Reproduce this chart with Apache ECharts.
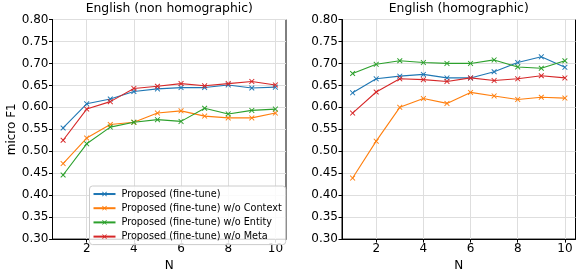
<!DOCTYPE html>
<html>
<head>
<meta charset="utf-8">
<script src="https://cdn.jsdelivr.net/npm/echarts@6/dist/echarts.min.js"></script>
<style>
html,body{margin:0;padding:0;background:#fff;}
#c{width:576px;height:277px;}
</style>
</head>
<body>
<div id="c"></div>
<script>
const N = [1, 2, 3, 4, 5, 6, 7, 8, 9, 10];
const xTicks = [2, 4, 6, 8, 10];
const seriesNames = [
  'Proposed (fine-tune)',
  'Proposed (fine-tune) w/o Context',
  'Proposed (fine-tune) w/o Entity',
  'Proposed (fine-tune) w/o Meta'
];
const panelTitles = ['English (non homographic)', 'English (homographic)'];

const nonHomoProposed  = [0.553, 0.608, 0.619, 0.636, 0.642, 0.645, 0.645, 0.651, 0.644, 0.646];
const nonHomoWoContext = [0.472, 0.530, 0.561, 0.566, 0.587, 0.592, 0.580, 0.576, 0.576, 0.587];
const nonHomoWoEntity  = [0.446, 0.517, 0.555, 0.566, 0.572, 0.568, 0.598, 0.585, 0.593, 0.596];
const nonHomoWoMeta    = [0.525, 0.596, 0.613, 0.643, 0.648, 0.654, 0.649, 0.654, 0.659, 0.651];

const homoProposed  = [0.633, 0.665, 0.671, 0.675, 0.667, 0.667, 0.681, 0.702, 0.715, 0.691];
const homoWoContext = [0.439, 0.523, 0.600, 0.620, 0.609, 0.634, 0.626, 0.618, 0.623, 0.621];
const homoWoEntity  = [0.677, 0.698, 0.706, 0.702, 0.700, 0.700, 0.708, 0.692, 0.689, 0.706];
const homoWoMeta    = [0.587, 0.635, 0.665, 0.663, 0.659, 0.667, 0.661, 0.665, 0.672, 0.667];

const colors = ['#1f77b4', '#ff7f0e', '#2ca02c', '#d62728'];
const panels = [
  [nonHomoProposed, nonHomoWoContext, nonHomoWoEntity, nonHomoWoMeta],
  [homoProposed, homoWoContext, homoWoEntity, homoWoMeta]
];

const FONT = 'DejaVu Sans';
const xMark = 'path://M0,1.2L1.2,0L5,3.8L8.8,0L10,1.2L6.2,5L10,8.8L8.8,10L5,6.2L1.2,10L0,8.8L3.8,5Z';

const grids = [
  {left: 52.5, top: 19.5, width: 233.5, height: 227},
  {left: 342, top: 19.5, width: 233.5, height: 227}
];

function makeX(i) {
  return {
    type: 'value', gridIndex: i, min: 0.55, max: 10.45,
    name: 'N', nameLocation: 'middle', nameGap: 18,
    nameTextStyle: {fontFamily: FONT, fontSize: 12, color: '#000'},
    axisLine: {show: true, onZero: false, lineStyle: {color: '#000', width: 1}},
    axisTick: {show: true, length: 3.5, customValues: xTicks, lineStyle: {color: '#000'}},
    axisLabel: {show: true, customValues: xTicks, fontFamily: FONT, fontSize: 12, color: '#000', margin: 4},
    splitLine: {show: true, lineStyle: {color: '#dedede', width: 1}}
  };
}
function makeY(i) {
  return {
    type: 'value', gridIndex: i, min: 0.3, max: 0.8, interval: 0.05,
    name: i === 0 ? 'micro F1' : '', nameLocation: 'middle', nameGap: 33,
    nameTextStyle: {fontFamily: FONT, fontSize: 12, color: '#000'},
    axisLine: {show: true, onZero: false, lineStyle: {color: '#000', width: 1}},
    axisTick: {show: true, length: 3.5, lineStyle: {color: '#000'}},
    axisLabel: {show: true, fontFamily: FONT, fontSize: 12, color: '#000', margin: 4,
      formatter: v => v.toFixed(2)},
    splitLine: {show: true, lineStyle: {color: '#dedede', width: 1}}
  };
}

const series = [];
panels.forEach((arrs, p) => {
  arrs.forEach((vals, k) => {
    series.push({
      type: 'line', name: seriesNames[k], xAxisIndex: p, yAxisIndex: p,
      data: N.map((n, j) => [n, vals[j]]),
      symbol: xMark, symbolSize: 5.5, showSymbol: true,
      lineStyle: {color: colors[k], width: 1.1},
      itemStyle: {color: colors[k]},
      animation: false, z: 3 + k
    });
  });
});

const chart = echarts.init(document.getElementById('c'), null, {renderer: 'canvas'});
chart.setOption({
  backgroundColor: '#fff',
  animation: false,
  title: [
    {text: panelTitles[0], left: 169.25, top: 3, textAlign: 'center', padding: 0,
     textStyle: {fontFamily: FONT, fontSize: 12.4, fontWeight: 'normal', color: '#000'}},
    {text: panelTitles[1], left: 458.75, top: 3, textAlign: 'center', padding: 0,
     textStyle: {fontFamily: FONT, fontSize: 12.4, fontWeight: 'normal', color: '#000'}}
  ],
  grid: grids.map(g => Object.assign({show: true, borderColor: '#000', borderWidth: 1, backgroundColor: 'transparent'}, g)),
  xAxis: [makeX(0), makeX(1)],
  yAxis: [makeY(0), makeY(1)],
  legend: {
    show: true, orient: 'vertical', left: 89.5, top: 186,
    data: seriesNames,
    itemWidth: 22, itemHeight: 6, itemGap: 4.2,
    padding: [3, 4, 3, 3],
    backgroundColor: 'rgba(255,255,255,0.85)',
    borderColor: '#cccccc', borderWidth: 1, borderRadius: 3,
    textStyle: {fontFamily: FONT, fontSize: 9.7, color: '#000', padding: [0, 0, 0, 1]},
    selectedMode: false
  },
  series: series
});
</script>
</body>
</html>
